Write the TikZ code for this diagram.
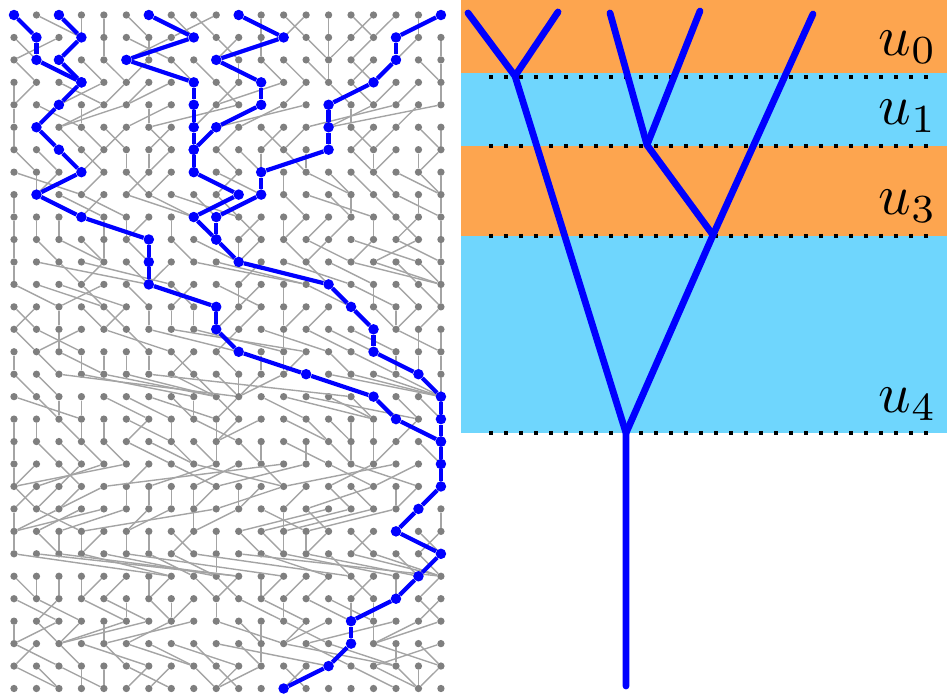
\documentclass[tikz,border=0pt]{standalone}
\definecolor{dotgray}{HTML}{7F7F7F}
\definecolor{edgegray}{HTML}{A4A4A4}
\definecolor{pathblue}{HTML}{0000FF}
\definecolor{bandorange}{HTML}{FDA54F}
\definecolor{bandblue}{HTML}{6FD6FD}
\tikzset{
  gdot/.style={circle,fill=dotgray,inner sep=0pt,minimum size=7.3pt},
  bdot/.style={circle,fill=pathblue,inner sep=0pt,minimum size=10.5pt},
  gedge/.style={draw=edgegray,line width=1.4pt},
  bedge/.style={draw=pathblue,line width=4.2pt,line join=round},
  treeline/.style={draw=pathblue,line width=6.8pt,line cap=round,line join=round},
  sepline/.style={draw=black,line width=4.3pt,dash pattern=on 4.3pt off 10.7pt},
  lab/.style={anchor=base east,inner sep=0pt,scale=5.7}
}
% blue walks: column/row
\def\pathA{0/0,1/1,1/2,3/3}
\def\pathB{2/0,3/1,2/2,3/3,2/4,1/5,2/6,3/7,1/8,3/9,6/10,6/11,6/12,9/13,9/14,10/15,13/16,16/17,17/18,19/19,19/20,19/21,18/22,17/23,19/24,18/25,17/26,15/27,15/28,14/29,12/30}
\def\pathC{6/0,8/1,5/2,8/3,8/4,8/5,8/6,8/7,10/8,8/9,9/10,10/11,14/12,15/13,16/14,16/15,18/16,19/17,19/18,19/19}
\def\pathD{10/0,12/1,9/2,11/3,11/4,9/5,8/6}
\def\pathE{19/0,17/1,17/2,16/3,14/4,14/5,14/6,11/7,11/8,9/9,9/10}
\def\driftlist{{1,0,0,-1,-3,0,0,1,2,0,2,4,2,0,3,1,8,3,1,1,-5,-2,-5,0,8,0,2,-4,4,1}}
\def\spreadlist{{2,2,1.5,2,3,1.5,1.5,2,2,1.5,2,3,2,1.5,3,1.5,3,3,2,1.5,4,2,4,1,3,1.5,1.5,3,3,2}}
\newcommand\marksources[1]{%
  \foreach \c/\r [remember=\c as \pc (initially -1), remember=\r as \pr (initially -1)] in #1 {%
    \ifnum\pc>-1 \expandafter\gdef\csname bs-\pc-\pr\endcsname{}\fi
  }}
\newcommand\drawwalk[1]{%
  \foreach \c/\r in #1 {\node[bdot] (b-\c-\r) at (g-\c-\r) {};}
  \foreach \c/\r [remember=\c as \pc (initially -1), remember=\r as \pr (initially -1)] in #1 {%
    \ifnum\pc>-1 \draw[bedge] (b-\pc-\pr) -- (b-\c-\r);\fi
  }}
\begin{document}
\begin{tikzpicture}[x=1pt,y=-1pt]
\useasboundingbox (0,0) rectangle (947,696);
% bands
\fill[bandorange] (461,0) rectangle (947,73);
\fill[bandblue] (461,73) rectangle (947,146);
\fill[bandorange] (461,146) rectangle (947,236);
\fill[bandblue] (461,236) rectangle (947,433);
% grid of sites
\foreach \r in {0,...,30} {
  \foreach \c in {0,...,19} {
    \node[gdot] (g-\c-\r) at ({14+22.47*\c},{15+22.45*\r}) {};
  }
}
\marksources{\pathA}\marksources{\pathB}\marksources{\pathC}\marksources{\pathD}\marksources{\pathE}
\pgfmathsetseed{4242}
\foreach \r in {0,...,29} {
  \pgfmathtruncatemacro\rr{\r+1}
  \pgfmathsetmacro\dr{\driftlist[\r]}
  \pgfmathsetmacro\sr{\spreadlist[\r]}
  \foreach \c in {0,...,19} {
    \ifcsname bs-\c-\r\endcsname\else
      \pgfmathtruncatemacro\tgt{max(0,min(19,round(\c+\dr*rnd+\sr*rand)))}
      \draw[gedge] (g-\c-\r) -- (g-\tgt-\rr);
    \fi
  }
}
% blue walks
\drawwalk{\pathA}
\drawwalk{\pathB}
\drawwalk{\pathC}
\drawwalk{\pathD}
\drawwalk{\pathE}
% separators
\foreach \y/\n in {77/s0,146/s1,236/s2,433/s3} {
  \coordinate (\n a) at (489,\y);
  \coordinate (\n b) at (936,\y);
  \draw[sepline] (\n a) -- (\n b);
}
% tree
\coordinate (A) at (468,13);
\coordinate (B) at (558,12);
\coordinate (J1) at (515,76);
\coordinate (C) at (610,13);
\coordinate (D) at (700,11);
\coordinate (J2) at (647,145);
\coordinate (E) at (813,14);
\coordinate (J3) at (713,235);
\coordinate (J4) at (626,433);
\coordinate (R) at (626,686);
\draw[treeline] (A) -- (J1) -- (J4) -- (R);
\draw[treeline] (B) -- (J1);
\draw[treeline] (C) -- (J2) -- (J3) -- (J4);
\draw[treeline] (D) -- (J2);
\draw[treeline] (E) -- (J3);
% labels
\node[lab] (l0) at (938,55) {$u_0$};
\node[lab] (l1) at (938,124) {$u_1$};
\node[lab] (l3) at (938,214) {$u_3$};
\node[lab] (l4) at (938,412) {$u_4$};
\end{tikzpicture}
\end{document}
